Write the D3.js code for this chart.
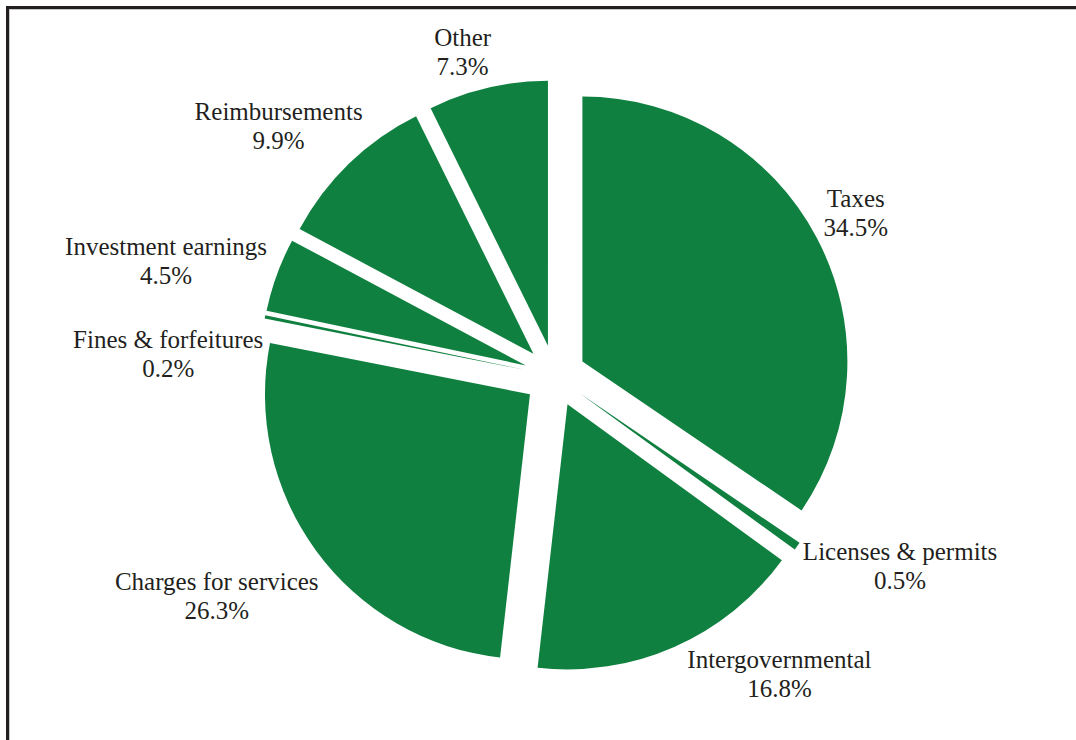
<!DOCTYPE html>
<html>
<head>
<meta charset="utf-8">
<script src="https://cdn.jsdelivr.net/npm/d3@7"></script>
<style>
  html, body { margin: 0; padding: 0; background: #fff; }
  svg { display: block; }
  .lbl { font-family: "Liberation Serif", "Times New Roman", "DejaVu Serif", serif; font-size: 25px; fill: #231f20; }
</style>
</head>
<body>
<svg id="chart" width="1076" height="740"></svg>
<script>
// Revenue sources, share of total (%)
const categories = [
  "Taxes",
  "Licenses & permits",
  "Intergovernmental",
  "Charges for services",
  "Fines & forfeitures",
  "Investment earnings",
  "Reimbursements",
  "Other"
];
const shares = [34.5, 0.5, 16.8, 26.3, 0.2, 4.5, 9.9, 7.3];
const shareLabels = ["34.5%", "0.5%", "16.8%", "26.3%", "0.2%", "4.5%", "9.9%", "7.3%"];

const W = 1076, H = 740;
const cx = 555, cy = 376;
const radius = 265;
const explode = 31;      // every slice pulled out along its bisector
const labelRadius = 316; // anchor radius for the outside labels
const lineGap = 29;
const green = "#108040";

// hand adjustments so crowded labels sit clear of each other and the slices
const labelNudge = {
  "Taxes": [-7, -2],
  "Licenses & permits": [7, -8],
  "Intergovernmental": [60, -17],
  "Charges for services": [-1, 17],
  "Fines & forfeitures": [16, 47],
  "Investment earnings": [3, 3],
  "Reimbursements": [2, -3],
  "Other": [-14, 11]
};

const svg = d3.select("#chart");

// frame: top and left rules
svg.append("line").attr("x1", 7.5).attr("x2", W).attr("y1", 7.5).attr("y2", 7.5)
  .attr("stroke", "#231f20").attr("stroke-width", 3);
svg.append("line").attr("x1", 7.5).attr("x2", 7.5).attr("y1", 6).attr("y2", H)
  .attr("stroke", "#231f20").attr("stroke-width", 3);
svg.append("line").attr("x1", 9).attr("x2", W).attr("y1", 9.5).attr("y2", 9.5)
  .attr("stroke", "#c8c8c8").attr("stroke-width", 1);
svg.append("line").attr("x1", 9.5).attr("x2", 9.5).attr("y1", 9).attr("y2", H)
  .attr("stroke", "#c8c8c8").attr("stroke-width", 1);

const pie = d3.pie().sort(null).value(d => d)
  .startAngle(0).endAngle(2 * Math.PI);
const arcs = pie(shares);
const arc = d3.arc().innerRadius(0).outerRadius(radius);

const g = svg.append("g").attr("transform", `translate(${cx},${cy})`);

const mid = a => (a.startAngle + a.endAngle) / 2;

g.selectAll("path.slice")
  .data(arcs)
  .join("path")
  .attr("class", "slice")
  .attr("d", arc)
  .attr("fill", green)
  .attr("transform", a => {
    const m = mid(a);
    return `translate(${explode * Math.sin(m)},${-explode * Math.cos(m)})`;
  });

// labels: name + percentage, placed outside each slice
const labels = g.selectAll("text.lbl")
  .data(arcs)
  .join("text")
  .attr("class", "lbl")
  .attr("text-anchor", "middle");

labels.append("tspan").attr("x", 0).attr("dy", 0).text((a, i) => categories[i]);
labels.append("tspan").attr("x", 0).attr("dy", lineGap).text((a, i) => shareLabels[i]);

labels.each(function (a, i) {
  const bb = this.getBBox();
  const m = mid(a);
  const s = Math.sin(m), c = -Math.cos(m);
  const nudge = labelNudge[categories[i]] || [0, 0];
  // box centre pushed outward by half its size along the bisector direction
  const px = labelRadius * s + s * bb.width / 2 + nudge[0];
  const py = labelRadius * c + c * bb.height / 2 + nudge[1];
  const offY = -(bb.y + bb.height / 2);
  d3.select(this).attr("transform", `translate(${px},${py + offY})`);
});
</script>
</body>
</html>
